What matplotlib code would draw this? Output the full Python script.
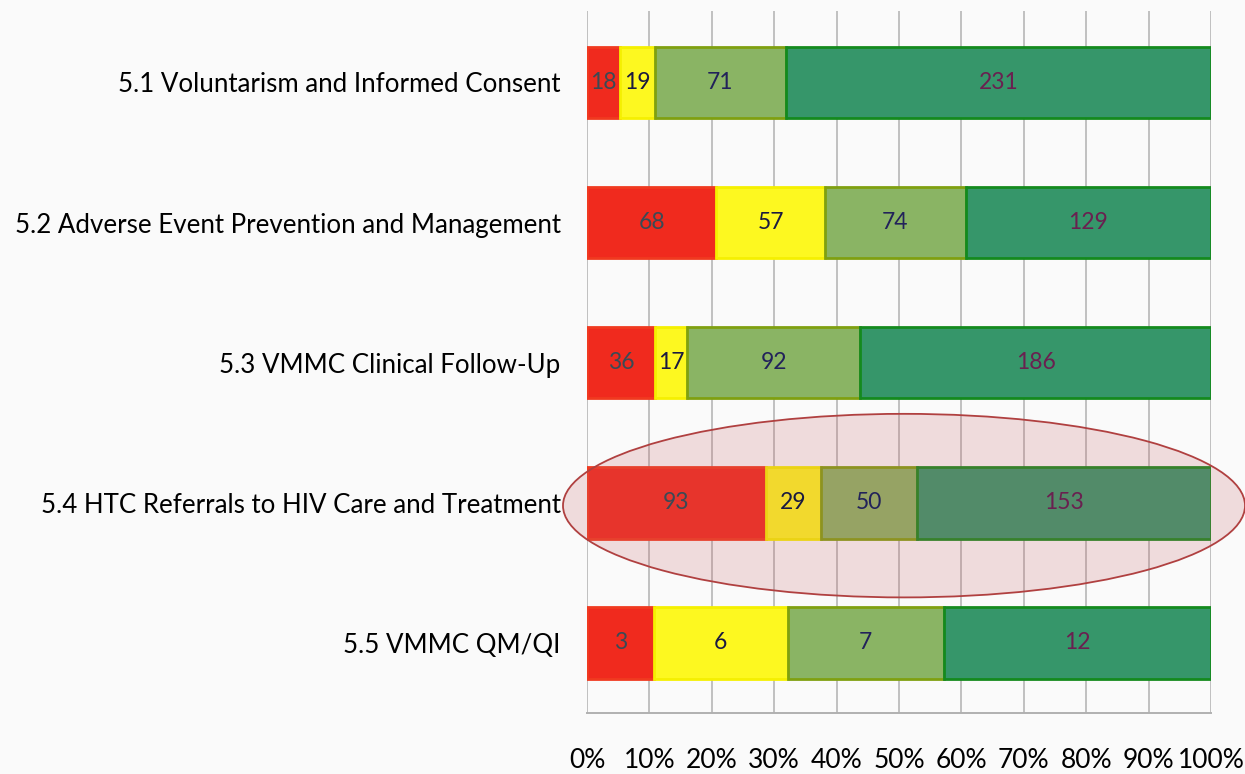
import matplotlib.pyplot as plt
from matplotlib.patches import Ellipse

categories = [
    "5.1 Voluntarism and Informed Consent",
    "5.2 Adverse Event Prevention and Management",
    "5.3 VMMC Clinical Follow-Up",
    "5.4 HTC Referrals to HIV Care and Treatment",
    "5.5 VMMC QM/QI",
]
red = [18, 68, 36, 93, 3]
yellow = [19, 57, 17, 29, 6]
light_green = [71, 74, 92, 50, 7]
dark_green = [231, 129, 186, 153, 12]
ticks = [0, 10, 20, 30, 40, 50, 60, 70, 80, 90, 100]

plt.rcParams['font.family'] = ['Lato', 'DejaVu Sans']

fig = plt.figure(figsize=(12.45, 7.74), dpi=100, facecolor='#fafafa')
ax = fig.add_axes([0.4715, 0.0788, 0.5012, 0.907], facecolor='#fafafa')

series = [
    (red, '#f02a1e', '#f03a20', '#3a4a55'),
    (yellow, '#fdf820', '#f5f000', '#1a1a40'),
    (light_green, '#8ab464', '#7fa010', '#22225a'),
    (dark_green, '#36966a', '#148a1e', '#6a2050'),
]

totals = [sum(s[i] for s, _, _, _ in series) for i in range(len(categories))]
ypos = list(range(len(categories)))
left = [0.0] * len(categories)
for vals, fc, ec, tc in series:
    widths = [v / t * 100 for v, t in zip(vals, totals)]
    bars = ax.barh(ypos, widths, left=left, height=0.51, color=fc,
                   edgecolor=ec, linewidth=2, zorder=3)
    for b, v in zip(bars, vals):
        ax.text(b.get_x() + b.get_width() / 2, b.get_y() + b.get_height() / 2,
                str(v), ha='center', va='center', fontsize=16.5, color=tc, zorder=5)
    left = [l + w for l, w in zip(left, widths)]

# highlight around the referrals row
ax.add_patch(Ellipse((50.8, 3.02), 109.3, 1.31, facecolor=(0.78, 0.38, 0.40, 0.2),
                     edgecolor='#b04040', linewidth=1.3, clip_on=False, zorder=4))

ax.set_xlim(0, 100)
ax.set_ylim(4.5, -0.51)
ax.set_xticks(ticks)
ax.set_xticklabels([f"{t}%" for t in ticks], fontsize=19)
ax.set_yticks(ypos)
ax.set_yticklabels(categories, fontsize=18.6)
ax.tick_params(axis='x', length=0, pad=25)
ax.tick_params(axis='y', length=0, pad=19)
ax.grid(axis='x', color='#c0c0c0', linewidth=1.4, zorder=0)
for s in ['top', 'right', 'left']:
    ax.spines[s].set_visible(False)
ax.spines['bottom'].set_color('#b0b0b0')
ax.spines['bottom'].set_linewidth(1.4)

fig.savefig('out.png', dpi=100, facecolor=fig.get_facecolor())
